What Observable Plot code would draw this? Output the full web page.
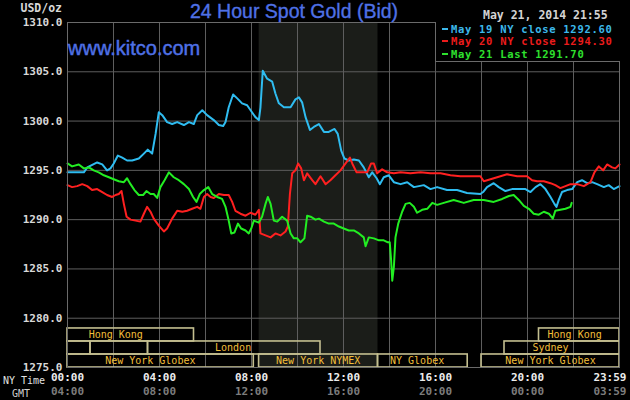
<!DOCTYPE html>
<html>
<head>
<meta charset="utf-8">
<script src="https://cdn.jsdelivr.net/npm/d3@7"></script>
<script src="https://cdn.jsdelivr.net/npm/@observablehq/plot@0.6"></script>
<style>
  html, body { margin: 0; padding: 0; background: #000; }
  #wrap { position: relative; width: 630px; height: 400px; overflow: hidden; background: #000; }
  #wrap svg { position: absolute; left: 0; top: 0; }
  .abs { position: absolute; white-space: pre; }
  .mono { font-family: "DejaVu Sans Mono", monospace; }
  #title { left: 190px; top: 0px; font: 19.5px/22px "Liberation Sans", Arial, sans-serif; color: #4f71e6; -webkit-text-stroke: 0.35px #4f71e6; }
  #site { left: 68px; top: 38px; font: 20px/20px "Liberation Sans", Arial, sans-serif; color: #4f71e6; -webkit-text-stroke: 0.45px #4f71e6; }
  #stamp { left: 483px; top: 9px; font-size: 11.5px; line-height: 12px; font-weight: bold; color: #d4d4d4; }
  #unit { left: 0px; width: 62px; text-align: right; top: 2px; font-size: 11.5px; line-height: 12px; font-weight: bold; color: #d8d8d8; }
  #nyt { left: 3px; top: 375.5px; font-size: 10px; line-height: 9px; height: 9px; color: #e0e0e0; }
  #gmt { left: 12px; top: 389px; font-size: 10px; line-height: 9px; height: 9px; color: #d0d0d0; }
  #legend { left: 435px; top: 22px; width: 185px; height: 40px; box-sizing: border-box; background: #000;
            border-left: 1px solid #6a6a6a; border-bottom: 1px solid #6a6a6a; padding-top: 1px; }
  #legend .row { font-size: 10.5px; letter-spacing: 0.7px; line-height: 12.4px; height: 12.4px; font-weight: bold; padding-left: 6px; white-space: pre; overflow: hidden; }
  #legend .dash { display: inline-block; width: 6px; height: 2px; vertical-align: middle; margin-right: 3px; position: relative; top: -1px; }
</style>
</head>
<body>
<div id="wrap"></div>
<script>
// ---------------- data ----------------
const seriesNames = ["May 19 NY close", "May 20 NY close", "May 21 Last"];
const seriesLast = [1292.60, 1294.30, 1291.70];
const seriesColors = ["#2fbcf0", "#ff2020", "#22ee22"];
const legendColors = ["#3cb8ea", "#ec1c1c", "#2ee02e"];

// [hour (NY time), price]
const may19 = [[0,1294.8],[0.71,1294.8],[0.86,1295.3],[1.29,1295.8],[1.51,1295.6],[1.72,1295.0],[1.87,1295.2],[2.01,1295.7],[2.19,1296.5],[2.38,1296.3],[2.59,1296.0],[2.81,1296.0],[3.10,1296.2],[3.32,1296.7],[3.49,1297.1],[3.68,1296.7],[3.83,1298.7],[3.97,1300.9],[4.12,1300.6],[4.33,1299.9],[4.55,1299.7],[4.77,1299.9],[5.06,1299.6],[5.28,1299.9],[5.49,1299.7],[5.64,1300.6],[5.86,1301.1],[6.07,1300.6],[6.36,1300.1],[6.58,1299.6],[6.77,1299.5],[6.87,1299.9],[7.01,1301.4],[7.20,1302.7],[7.38,1302.3],[7.59,1301.8],[7.81,1301.6],[7.96,1301.1],[8.17,1300.4],[8.32,1300.1],[8.39,1301.4],[8.49,1305.1],[8.68,1304.3],[8.90,1304.0],[9.04,1302.8],[9.19,1301.8],[9.41,1301.4],[9.70,1301.4],[9.91,1302.2],[10.06,1302.4],[10.20,1301.9],[10.35,1300.4],[10.54,1299.1],[10.71,1299.4],[10.93,1299.7],[11.15,1298.9],[11.36,1298.9],[11.61,1299.2],[11.75,1298.7],[11.90,1297.0],[12.04,1296.2],[12.23,1296.0],[12.45,1296.1],[12.67,1296.0],[12.88,1295.3],[13.10,1294.3],[13.25,1294.8],[13.44,1294.2],[13.58,1293.6],[13.75,1294.3],[13.97,1294.5],[14.19,1293.8],[14.48,1293.6],[14.77,1293.8],[15.06,1293.3],[15.28,1293.4],[15.49,1293.5],[15.78,1293.1],[16.07,1293.3],[16.50,1293.0],[16.94,1293.0],[17.37,1292.7],[17.95,1292.6],[18.07,1292.8],[18.24,1293.3],[18.53,1293.7],[18.75,1293.3],[19.04,1292.9],[19.33,1293.1],[19.62,1293.1],[19.91,1293.1],[20.13,1292.8],[20.35,1293.3],[20.56,1293.6],[20.78,1293.1],[21.00,1292.3],[21.17,1291.6],[21.26,1291.3],[21.36,1292.0],[21.50,1292.8],[21.72,1293.0],[21.94,1293.1],[22.16,1293.8],[22.37,1294.0],[22.59,1293.7],[22.81,1293.8],[23.03,1293.6],[23.32,1293.3],[23.53,1293.5],[23.75,1293.1],[24.0,1293.4]];

const may20 = [[0,1293.5],[0.20,1293.3],[0.42,1293.4],[0.64,1293.6],[0.86,1293.4],[1.07,1293.0],[1.29,1293.1],[1.51,1292.8],[1.72,1292.5],[1.94,1292.3],[2.09,1292.5],[2.23,1292.6],[2.35,1292.9],[2.45,1291.6],[2.57,1290.3],[2.74,1290.0],[2.96,1289.9],[3.17,1289.8],[3.32,1290.6],[3.46,1291.3],[3.61,1290.8],[3.75,1290.1],[3.97,1289.4],[4.19,1288.8],[4.33,1289.1],[4.55,1290.1],[4.77,1290.9],[4.99,1290.8],[5.20,1290.9],[5.42,1291.1],[5.64,1291.3],[5.78,1291.1],[5.93,1292.3],[6.07,1292.6],[6.22,1292.3],[6.36,1292.2],[6.58,1292.6],[6.80,1292.5],[7.01,1292.5],[7.16,1291.8],[7.30,1290.9],[7.52,1290.6],[7.74,1290.4],[7.96,1290.7],[8.17,1290.5],[8.32,1291.0],[8.39,1288.6],[8.61,1288.4],[8.83,1288.2],[9.04,1288.6],[9.26,1288.4],[9.48,1288.8],[9.58,1289.3],[9.67,1292.6],[9.77,1294.7],[9.91,1295.0],[10.03,1295.7],[10.16,1295.2],[10.28,1294.0],[10.42,1294.7],[10.64,1294.0],[10.78,1293.6],[11.00,1294.4],[11.22,1293.6],[11.43,1294.0],[11.65,1294.5],[11.87,1295.0],[12.09,1295.7],[12.28,1296.3],[12.38,1295.7],[12.57,1294.8],[12.81,1294.8],[13.03,1294.8],[13.20,1295.7],[13.32,1295.7],[13.46,1294.7],[13.68,1295.1],[13.90,1294.8],[14.19,1294.7],[14.48,1294.8],[14.91,1294.7],[15.35,1294.8],[15.78,1294.7],[16.22,1294.7],[16.65,1294.5],[17.08,1294.4],[17.95,1294.4],[18.10,1293.9],[18.39,1294.1],[18.68,1294.3],[19.11,1294.6],[19.55,1294.4],[19.98,1294.4],[20.20,1294.0],[20.42,1293.9],[20.71,1293.9],[21.00,1293.7],[21.21,1293.5],[21.43,1293.2],[21.65,1293.4],[21.87,1293.6],[22.16,1293.6],[22.45,1293.4],[22.74,1293.8],[22.91,1294.8],[23.10,1295.4],[23.29,1295.0],[23.46,1295.6],[23.68,1295.3],[23.82,1295.2],[24.0,1295.6]];

const may21 = [[0,1295.7],[0.20,1295.4],[0.49,1295.6],[0.71,1295.2],[0.93,1295.3],[1.14,1295.0],[1.36,1294.8],[1.58,1294.5],[1.80,1294.3],[2.01,1294.1],[2.23,1293.9],[2.45,1293.8],[2.59,1294.2],[2.74,1293.6],[2.91,1293.0],[3.10,1292.5],[3.29,1292.5],[3.43,1292.9],[3.61,1292.6],[3.75,1292.6],[3.90,1292.2],[4.04,1293.3],[4.22,1294.0],[4.41,1294.8],[4.62,1294.3],[4.84,1294.0],[5.06,1293.6],[5.28,1293.1],[5.46,1292.3],[5.61,1291.8],[5.75,1292.6],[5.93,1293.0],[6.12,1293.3],[6.29,1292.6],[6.51,1292.3],[6.72,1292.1],[6.87,1291.3],[7.01,1289.9],[7.12,1288.6],[7.26,1288.7],[7.41,1289.6],[7.55,1289.1],[7.74,1288.9],[7.88,1288.6],[7.99,1289.1],[8.10,1289.9],[8.32,1289.7],[8.46,1290.3],[8.61,1291.6],[8.71,1292.3],[8.83,1291.6],[8.97,1289.9],[9.12,1289.8],[9.33,1290.3],[9.55,1289.9],[9.70,1288.6],[9.84,1288.1],[9.99,1288.1],[10.13,1287.7],[10.30,1288.1],[10.42,1290.4],[10.57,1290.3],[10.78,1290.0],[10.93,1290.1],[11.15,1289.8],[11.36,1289.6],[11.58,1289.6],[11.80,1289.3],[12.01,1289.1],[12.23,1288.9],[12.45,1288.9],[12.67,1288.6],[12.88,1288.2],[12.96,1287.3],[13.10,1288.2],[13.32,1288.1],[13.54,1287.9],[13.75,1287.9],[13.93,1287.7],[14.01,1287.7],[14.07,1285.9],[14.12,1283.8],[14.19,1285.2],[14.26,1288.2],[14.38,1289.6],[14.55,1290.8],[14.70,1291.6],[14.88,1291.7],[15.06,1291.3],[15.20,1290.7],[15.42,1291.0],[15.64,1291.1],[15.86,1291.7],[16.07,1291.5],[16.36,1291.7],[16.79,1292.0],[17.23,1291.7],[17.66,1292.0],[18.10,1292.0],[18.53,1291.8],[18.90,1292.1],[19.19,1292.4],[19.40,1292.5],[19.62,1292.0],[19.84,1291.4],[20.06,1291.1],[20.27,1290.6],[20.49,1290.5],[20.71,1290.8],[20.93,1290.6],[21.10,1290.1],[21.21,1290.9],[21.43,1291.0],[21.65,1291.1],[21.87,1291.3],[21.92,1291.7]];

const yTicks = [1275, 1280, 1285, 1290, 1295, 1300, 1305, 1310];
const xTickHours = [0, 4, 8, 12, 16, 20, 24];
const nyTickLabels = ["00:00", "04:00", "08:00", "12:00", "16:00", "20:00", "23:59"];
const gmtTickLabels = ["04:00", "08:00", "12:00", "16:00", "20:00", "00:00", "03:59"];
const gridHours = [0, 2, 4, 6, 8, 10, 12, 14, 16, 18, 20, 22, 24];

// NYMEX pit session shading (hours)
const shadeStart = [8 + 20 / 60];
const shadeEnd = [13.5];

// trading sessions: name, row (0 = top), start, end, label position (hours)
const sessionNames = ["Hong Kong", "", "", "London", "New York Globex", "New York NYMEX", "NY Globex", "New York Globex", "Sydney", "Hong Kong"];
const sessionRows = [0, 1, 1, 1, 2, 2, 2, 2, 1, 0];
const sessionStart = [0, 0, 1.0, 3.5, 0, 8.33, 13.5, 18.0, 19.0, 20.5];
const sessionEnd = [5.5, 1.0, 3.5, 11.0, 8.1, 13.5, 17.4, 24, 24, 24];
const sessionLabelAt = [2.1, 0.5, 2.25, 7.2, 3.6, 10.9, 15.2, 21.0, 21.0, 22.05];

// ---------------- build ----------------
const ROW_H = 1.32; // price units per session row
const rowBottom = r => 1275 + (2 - r) * ROW_H;

const toPts = arr => arr.map(([h, v]) => ({h, v}));
const sessions = sessionNames.map((name, i) => ({
  name, row: sessionRows[i], start: sessionStart[i], end: sessionEnd[i], at: sessionLabelAt[i]
}));
const xTicks = xTickHours.map((h, i) => ({h, ny: nyTickLabels[i], gmt: gmtTickLabels[i]}));
const shade = shadeStart.map((s, i) => ({start: s, end: shadeEnd[i]}));

const mono = "DejaVu Sans Mono";

const chart = Plot.plot({
  width: 630,
  height: 400,
  marginTop: 22,
  marginBottom: 33,
  marginLeft: 67,
  marginRight: 11,
  x: {domain: [0, 24], axis: null},
  y: {domain: [1275, 1310], axis: null},
  style: {background: "#000", color: "#d8d8d8", fontFamily: mono, fontSize: "11px", overflow: "visible"},
  marks: [
    Plot.rect(shade, {x1: "start", x2: "end", fill: "#1b1d19"}),
    Plot.gridX(gridHours, {stroke: "#5e5e5e", strokeOpacity: 1, strokeWidth: 1}),
    Plot.gridY(yTicks, {stroke: "#5e5e5e", strokeOpacity: 1, strokeWidth: 1}),
    Plot.rect(sessions, {
      x1: "start", x2: "end",
      y1: d => rowBottom(d.row), y2: d => rowBottom(d.row) + ROW_H,
      fill: "none", stroke: "#c4bf90", strokeWidth: 1.6
    }),
    Plot.text(sessions, {
      x: "at", y: d => rowBottom(d.row) + ROW_H / 2, text: "name",
      fill: "#f2bf3a", fontSize: 10, fontFamily: mono
    }),
    Plot.line(toPts(may19), {x: "h", y: "v", stroke: seriesColors[0], strokeWidth: 2}),
    Plot.line(toPts(may20), {x: "h", y: "v", stroke: seriesColors[1], strokeWidth: 2}),
    Plot.line(toPts(may21), {x: "h", y: "v", stroke: seriesColors[2], strokeWidth: 2}),
    Plot.frame({stroke: "#6a6a6a"}),
    Plot.axisY(yTicks, {
      tickSize: 0, tickPadding: 5, tickFormat: d => d.toFixed(1),
      fontSize: 11, fontWeight: "bold", fill: "#d8d8d8", label: null
    }),
    Plot.text(xTicks.slice(0, -1), {x: "h", text: "ny", frameAnchor: "bottom", dy: 13.5, fill: "#ececec", fontSize: 11, fontWeight: "bold"}),
    Plot.text(xTicks.slice(-1), {x: "h", text: "ny", frameAnchor: "bottom", dy: 13.5, dx: 7, textAnchor: "end", fill: "#ececec", fontSize: 11, fontWeight: "bold"}),
    Plot.text(xTicks.slice(0, -1), {x: "h", text: "gmt", frameAnchor: "bottom", dy: 27, fill: "#7c7c7c", fontSize: 11, fontWeight: "bold"}),
    Plot.text(xTicks.slice(-1), {x: "h", text: "gmt", frameAnchor: "bottom", dy: 27, dx: 7, textAnchor: "end", fill: "#7c7c7c", fontSize: 11, fontWeight: "bold"})
  ]
});

const wrap = document.getElementById("wrap");
wrap.appendChild(chart);

function addDiv(id, cls, text) {
  const d = document.createElement("div");
  d.id = id; d.className = cls; d.textContent = text;
  wrap.appendChild(d);
  return d;
}
addDiv("title", "abs", "24 Hour Spot Gold (Bid)");
addDiv("site", "abs", "www.kitco.com");
addDiv("stamp", "abs mono", "May 21, 2014 21:55");
addDiv("unit", "abs mono", "USD/oz");
addDiv("nyt", "abs mono", "NY Time");
addDiv("gmt", "abs mono", "GMT");

const legend = addDiv("legend", "abs mono", "");
seriesNames.forEach((name, i) => {
  const row = document.createElement("div");
  row.className = "row";
  row.style.color = legendColors[i];
  const dash = document.createElement("span");
  dash.className = "dash";
  dash.style.background = legendColors[i];
  row.appendChild(dash);
  row.appendChild(document.createTextNode(name + " " + seriesLast[i].toFixed(2)));
  legend.appendChild(row);
});
</script>
</body>
</html>
